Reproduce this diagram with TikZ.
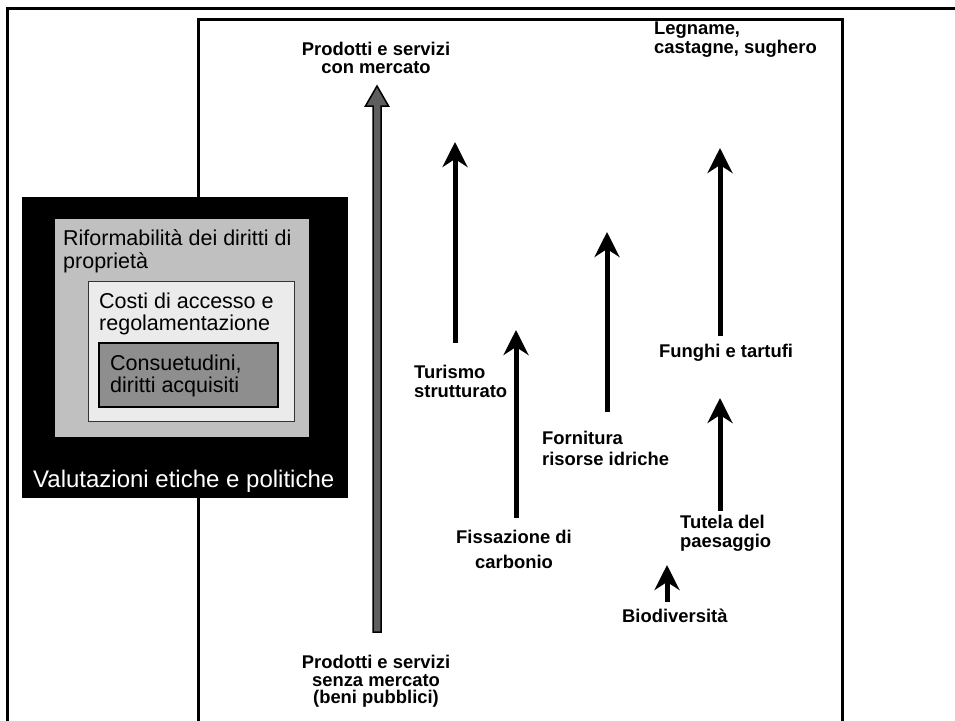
\documentclass[tikz,border=0pt]{standalone}
\usepackage{fontspec}
\setmainfont{Liberation Sans}
\usetikzlibrary{arrows.meta,calc}
\definecolor{rifgray}{HTML}{C0C0C0}
\definecolor{costifill}{HTML}{EBEBEB}
\definecolor{consfill}{HTML}{8E8E8E}
\definecolor{arrowgray}{HTML}{5E5E5E}
\begin{document}
\begin{tikzpicture}[x=1pt,y=-1pt,
  frame/.style={line width=3pt},
  lab/.style={font=\bfseries\fontsize{18.4}{19}\selectfont, inner sep=0pt},
  boxtxt/.style={font=\fontsize{21.5}{22.5}\selectfont, inner sep=0pt, align=left},
  panel/.style={inner sep=0pt, anchor=north west},
  flow/.style={line width=5pt, -{Stealth[length=25pt,width=25pt,inset=8pt]}},
]
\useasboundingbox (0,0) rectangle (955,720);
% frames
\draw[frame] (7,735) -- (7,8) -- (970,8);
\draw[frame] (198,735) -- (198,19) -- (842,19) -- (842,735);
% left nested boxes
\node[panel, fill=black, minimum width=326pt, minimum height=301pt] (etica) at (22,197) {};
\node[panel, fill=rifgray, minimum width=254pt, minimum height=218pt] (rif) at (55,219) {};
\node[panel, draw=black!80, line width=1.2pt, fill=costifill, minimum width=206pt, minimum height=140pt] (costi) at (88,281) {};
\node[panel, draw=black, line width=1.5pt, fill=consfill, minimum width=179pt, minimum height=64pt] (cons) at (98,342) {};
\node[boxtxt, anchor=north west] (riftxt) at (63,229.5) {Riformabilità dei diritti di\\proprietà};
\node[boxtxt, anchor=north west] (costitxt) at (99,292.5) {Costi di accesso e\\regolamentazione};
\node[boxtxt, anchor=north west] (constxt) at (110,354.5) {Consuetudini,\\diritti acquisiti};
\node[font=\fontsize{24}{24}\selectfont, text=white, anchor=base west, inner sep=0pt] (ettxt) at (33,487) {Valutazioni etiche e politiche};
% labels
\node[lab, align=center, anchor=north, font=\bfseries\fontsize{18.4}{17.5}\selectfont] (mkt) at (376,42) {Prodotti e servizi\\con mercato};
\node[lab, align=left, anchor=north west] (legno) at (654,22) {Legname,\\castagne, sughero};
\node[lab, align=left, anchor=north west] (tur) at (414,365) {Turismo\\strutturato};
\node[lab, align=center, anchor=north] (fiss) at (514,530) {Fissazione di\\[6pt]carbonio};
\node[lab, align=left, anchor=north west] (forn) at (542,431) {Fornitura\\[2pt]risorse idriche};
\node[lab, anchor=base west] (fung) at (659,357) {Funghi e tartufi};
\node[lab, align=left, anchor=north west] (tut) at (680,515) {Tutela del\\paesaggio};
\node[lab, anchor=base west] (bio) at (622,622) {Biodiversità};
\node[lab, align=center, anchor=north, font=\bfseries\fontsize{18.4}{17.5}\selectfont] (nomkt) at (376,655) {Prodotti e servizi\\senza mercato\\(beni pubblici)};
% gray main arrow
\coordinate (g0) at (377,632);
\coordinate (g1) at (377,86);
\draw[line width=1.5pt, fill=arrowgray, line join=miter]
  ($(g0)+(-4,0)$) -- ($(g1)+(-4,20)$) -- ($(g1)+(-11.5,20)$) -- (g1)
  -- ($(g1)+(11.5,20)$) -- ($(g1)+(4,20)$) -- ($(g0)+(4,0)$) -- cycle;
% black arrows
\coordinate (t0) at (455,343); \coordinate (t1) at (455,142);
\coordinate (c0) at (516,518); \coordinate (c1) at (516,330);
\coordinate (w0) at (607,412); \coordinate (w1) at (607,232);
\coordinate (f0) at (720,336); \coordinate (f1) at (720,148);
\coordinate (p0) at (720,511); \coordinate (p1) at (720,398);
\coordinate (b0) at (667,602); \coordinate (b1) at (667,565);
\draw[flow] (t0) -- (t1);
\draw[flow] (c0) -- (c1);
\draw[flow] (w0) -- (w1);
\draw[flow] (f0) -- (f1);
\draw[flow] (p0) -- (p1);
\draw[flow] (b0) -- (b1);
\end{tikzpicture}
\end{document}
